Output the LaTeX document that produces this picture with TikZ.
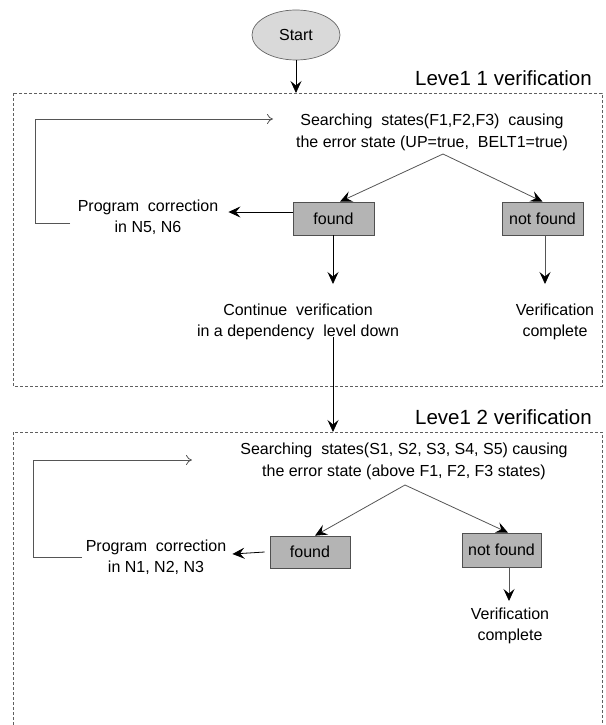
\documentclass[tikz,border=0pt]{standalone}
\usepackage{fontspec}
\setmainfont{Liberation Sans}
\usetikzlibrary{arrows.meta,shapes.geometric}
\definecolor{boxfill}{HTML}{B4B4B4}
\definecolor{boxedge}{HTML}{505050}
\definecolor{ovalfill}{HTML}{D9D9D9}
\definecolor{linegray}{HTML}{555555}
\definecolor{framegray}{HTML}{606060}
\begin{document}
\begin{tikzpicture}[x=1pt,y=-1pt,
  txt/.style={font=\fontsize{16}{21.5}\selectfont, align=center, inner sep=0pt},
  title/.style={font=\fontsize{20.5}{24}\selectfont, inner sep=0pt, anchor=east},
  resbox/.style={draw=boxedge, fill=boxfill, line width=0.7pt, minimum width=81pt,
    minimum height=33pt, inner sep=0pt, font=\fontsize{16}{20}\selectfont},
  frame/.style={draw=framegray, dash pattern=on 3pt off 2pt, line width=0.6pt},
  solidhead/.style={-{Stealth[length=12pt,width=11pt,inset=4.5pt,color=black]}, line width=0.8pt},
  grayhead/.style={solidhead, draw=linegray},
  openhead/.style={-{To[length=6pt,width=10pt]}, draw=linegray, line width=0.8pt},
  loop/.style={draw=linegray, line width=0.8pt}
]
\useasboundingbox (0,0) rectangle (605,725);

% start terminal
\node[ellipse, draw=black!60, fill=ovalfill, line width=0.7pt,
  minimum width=88pt, minimum height=50pt, inner sep=0pt,
  font=\fontsize{16}{20}\selectfont] (start) at (296,35) {Start};

% level frames
\draw[frame] (13,93) rectangle (602,386);
\draw[frame] (13,725) -- (13,432) -- (602,432) -- (602,725);
\node[title] (lv1) at (592,78) {Leve1 1 verification};
\node[title] (lv2) at (592,417) {Leve1 2 verification};
\coordinate (top1) at (296,93);
\coordinate (top2) at (333,432);

% level 1
\node[txt] (search1) at (432,132.5) {Searching\ \ states(F1,F2,F3)\ \ causing\\the error state (UP=true,\ \ BELT1=true)};
\coordinate (fork1) at (443,154);
\node[resbox] (found1) at (333.5,218.5) {found};
\node[resbox] (nf1) at (542.5,218.5) {not found};
\node[txt] (fix1) at (148,217) {Program\ \ correction\\in N5, N6};
\node[txt] (cont1) at (298,322) {Continue\ \ verification\\in a dependency\ \ level down};
\node[txt] (done1) at (555,322) {Verification\\complete};
\coordinate (l1a) at (70,223);
\coordinate (l1b) at (35,223);
\coordinate (l1c) at (35,119);
\coordinate (l1d) at (273,119);
\coordinate (c1tip) at (333,284);
\coordinate (c1out) at (333,337);
\coordinate (d1tip) at (545,284);

% level 2
\node[txt] (search2) at (404,461.5) {Searching\ \ states(S1,\ S2,\ S3,\ S4,\ S5)\ causing\\the error state (above F1, F2, F3 states)};
\coordinate (fork2) at (405,485);
\node[resbox, minimum width=80pt, minimum height=32pt] (found2) at (310,552) {found};
\node[resbox, minimum width=79pt, minimum height=34pt] (nf2) at (501.5,550) {not found};
\node[txt] (fix2) at (156,557) {Program\ \ correction\\in N1, N2, N3};
\node[txt] (done2) at (510,626) {Verification\\complete};
\coordinate (l2a) at (82,557);
\coordinate (l2b) at (33,557);
\coordinate (l2c) at (33,460);
\coordinate (l2d) at (192,460);
\coordinate (d2tip) at (509,601);

% connectors
\draw[solidhead] (start.south) -- (top1);
\draw[grayhead] (fork1) -- ([xshift=6.5pt]found1.north);
\draw[grayhead] (fork1) -- (nf1.north);
\draw[solidhead] ([yshift=6.5pt]found1.west) -- ([xshift=10pt,yshift=5pt]fix1.east);
\draw[solidhead] (found1.south -| c1tip) -- (c1tip);
\draw[grayhead] (nf1.south -| d1tip) -- (d1tip);
\draw[loop] (l1a) -- (l1b) -- (l1c);
\draw[openhead] (l1c) -- (l1d);
\draw[solidhead] (c1out) -- (top2);

\draw[grayhead] (fork2) -- ([xshift=5pt]found2.north);
\draw[grayhead] (fork2) -- ([xshift=6.5pt]nf2.north);
\draw[solidhead] ([xshift=-5pt]found2.west) -- ([xshift=6pt,yshift=3pt]fix2.east);
\draw[grayhead] (nf2.south -| d2tip) -- (d2tip);
\draw[loop] (l2a) -- (l2b) -- (l2c);
\draw[openhead] (l2c) -- (l2d);
\end{tikzpicture}
\end{document}
